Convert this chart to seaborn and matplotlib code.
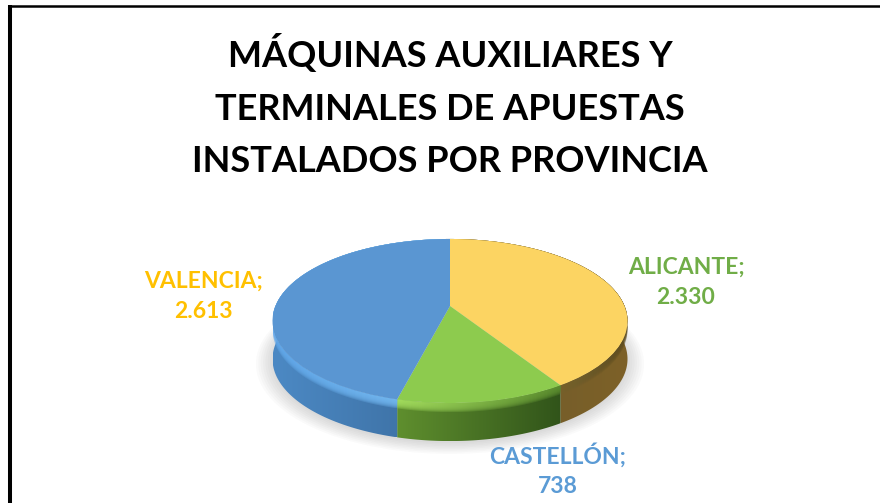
import numpy as np
import matplotlib
matplotlib.use("Agg")
import matplotlib.pyplot as plt
import matplotlib.transforms as mtransforms
from matplotlib.patches import Polygon
import seaborn as sns

sns.set_theme(style="white")
plt.rcParams['font.family'] = ['Lato', 'DejaVu Sans']

title = "MÁQUINAS AUXILIARES Y\nTERMINALES DE APUESTAS\nINSTALADOS POR PROVINCIA"
provincias = ["ALICANTE", "CASTELLÓN", "VALENCIA"]
maquinas = [2330, 738, 2613]
colores = ["#fcd462", "#8dcb4e", "#5a96d2"]

# los colores de las etiquetas no coinciden con las porciones en el original
colores_label = ["#70ad47", "#5b9bd5", "#ffc000"]
pos_label = [(686, 282), (558, 470), (203, 296)]

# degradado lateral (izquierda, derecha) de cada porcion
lado = [("#6d5a2c", "#7d6128"), ("#5f8f2e", "#31541a"), ("#4c89c4", "#3a6c9e")]
labio = [("#a08a44", "#5d4c20"), ("#a6e060", "#5d8f30"), ("#62a8ea", "#7cc0f4")]

CX, CY = 450, 306
A, B, K = 79.3, 174.5, 0.183
FONDO = 38


# perspectiva: el disco unidad pasa a pixeles de la imagen
class Perspectiva(mtransforms.Transform):
    input_dims = 2
    output_dims = 2

    def __init__(self, dy=0):
        super().__init__()
        self.dy = dy

    def transform_non_affine(self, values):
        values = np.asarray(values)
        w = 1 + K * values[:, 1]
        return np.column_stack([CX + B * values[:, 0] / w,
                                CY + self.dy - A * values[:, 1] / w])


def degradado(ax, verts, c1, c2, alpha=1.0, zorder=2):
    rgb = np.array([matplotlib.colors.to_rgb(c1), matplotlib.colors.to_rgb(c2)])
    x0, x1 = verts[:, 0].min(), verts[:, 0].max()
    t = np.linspace(0, 1, 200)
    img = np.column_stack([np.interp(t, [0, 1], rgb[:, i]) for i in range(3)])[None, :, :]
    y0, y1 = verts[:, 1].min(), verts[:, 1].max()
    im = ax.imshow(img, extent=(x0, x1, y1, y0), aspect='auto', zorder=zorder,
                   interpolation='bilinear', alpha=alpha)
    clip = Polygon(verts, closed=True, transform=ax.transData)
    im.set_clip_path(clip)


fig = plt.figure(figsize=(8.8, 5.03), dpi=100)
ax = fig.add_axes([0, 0, 1, 1])

# sombra difusa
for r in np.linspace(1.09, 1.0, 8):
    sombra, _ = ax.pie([1], radius=r, colors=["#404040"], wedgeprops={'alpha': 0.025, 'linewidth': 0})
    sombra[0].set_transform(Perspectiva(FONDO + 2) + ax.transData)
    sombra[0].set_zorder(1)

wedges, _ = ax.pie(maquinas, colors=colores, startangle=90, counterclock=False,
                   wedgeprops={'linewidth': 0})
ax.set_aspect('auto')
ax.set_xlim(0, 880)
ax.set_ylim(503, 0)
ax.set_axis_off()

proy = Perspectiva()
for w in wedges:
    w.set_transform(proy + ax.transData)
    w.set_zorder(4)

# pared lateral y labio de cada porcion
for i, w in enumerate(wedges):
    t = np.radians(np.linspace(w.theta1, w.theta2, 120))
    borde = proy.transform_non_affine(np.column_stack([np.cos(t), np.sin(t)]))
    pared = np.vstack([borde, (borde + [0, FONDO])[::-1]])
    degradado(ax, pared, lado[i][0], lado[i][1])
    for h in range(9, 0, -1):
        lip = np.vstack([borde, (borde + [0, h])[::-1]])
        degradado(ax, lip, labio[i][0], labio[i][1], alpha=0.3, zorder=3)

for nombre, valor, color, (x, y) in zip(provincias, maquinas, colores_label, pos_label):
    texto = f"{valor:,}".replace(",", ".")
    ax.text(x, y, f"{nombre};\n{texto}", color=color, fontsize=16.5, fontweight='bold',
            ha='center', va='center', linespacing=1.54)

ax.text(450, 106, title, color="black", fontsize=26, fontweight='bold',
        ha='center', va='center', linespacing=1.73)

# marco del grafico
ax.plot([10, 10], [503, 5], color="black", lw=2.9, solid_capstyle='butt', zorder=6)
ax.plot([8, 880], [6.2, 6.2], color="black", lw=1.8, solid_capstyle='butt', zorder=6)
ax.set_xlim(0, 880)
ax.set_ylim(503, 0)

fig.savefig("out.png", dpi=100)
